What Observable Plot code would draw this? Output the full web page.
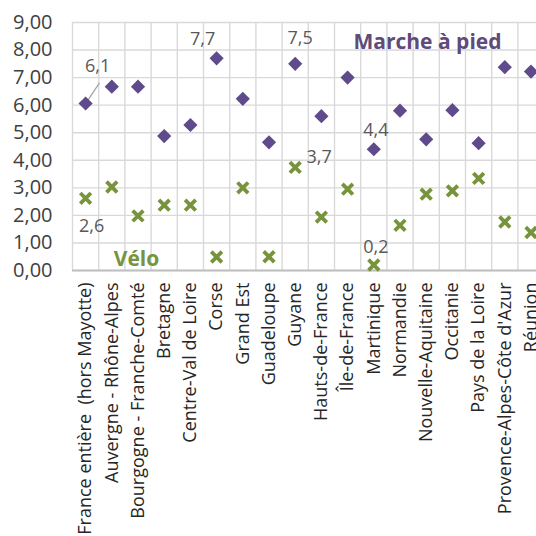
<!DOCTYPE html>
<html><head><meta charset="utf-8">
<script src="https://cdn.jsdelivr.net/npm/d3@7"></script>
<script src="https://cdn.jsdelivr.net/npm/@observablehq/plot@0.6"></script>
<style>
html,body{margin:0;padding:0;background:#fff;overflow:hidden;width:536px;height:536px}
</style></head><body><div id="chart"></div>
<script>
const regions = ["France entière  (hors Mayotte)", "Auvergne - Rhône-Alpes", "Bourgogne - Franche-Comté", "Bretagne", "Centre-Val de Loire", "Corse", "Grand Est", "Guadeloupe", "Guyane", "Hauts-de-France", "Île-de-France", "Martinique", "Normandie", "Nouvelle-Aquitaine", "Occitanie", "Pays de la Loire", "Provence-Alpes-Côte d'Azur", "Réunion"];
const walk = [6.06, 6.67, 6.67, 4.88, 5.28, 7.7, 6.23, 4.65, 7.5, 5.6, 7.0, 4.4, 5.8, 4.76, 5.82, 4.62, 7.38, 7.22];
const bike = [2.62, 3.03, 1.98, 2.37, 2.37, 0.49, 3.0, 0.5, 3.74, 1.94, 2.95, 0.2, 1.64, 2.77, 2.89, 3.34, 1.76, 1.38];
const yTicks = [0, 1, 2, 3, 4, 5, 6, 7, 8, 9];
const seriesNames = ["Marche à pied", "Vélo"];
const walkLabelled = ["France entière  (hors Mayotte)", "Corse", "Guyane", "Martinique"];
const bikeLabelled = ["France entière  (hors Mayotte)", "Guyane", "Martinique"];

// styling / placement (not data)
const purple = "#5f4a8b", green = "#77933c", grid = "#d9d9d9";
const walkLabelOffset = {"France entière  (hors Mayotte)": [12, -37], "Corse": [-14, -19], "Guyane": [5, -26], "Martinique": [2, -19]};
const bikeLabelOffset = {"France entière  (hors Mayotte)": [6, 28], "Guyane": [24, -10], "Martinique": [2, -18]};

const walkRows = regions.map((r, i) => ({region: r, x: i + 0.5, y: walk[i]}));
const bikeRows = regions.map((r, i) => ({region: r, x: i + 0.5, y: bike[i]}));
const fmt1 = v => v.toFixed(1).replace(".", ",");
const fmt2 = v => v.toFixed(2).replace(".", ",");

const leader = walkRows.filter(d => d.region === regions[0]);

const labelMarks = [];
for (const d of walkRows.filter(d => walkLabelled.includes(d.region))) {
  const [dx, dy] = walkLabelOffset[d.region];
  labelMarks.push(Plot.text([d], {x: "x", y: "y", text: d => fmt1(d.y), dx, dy, fill: "#595959", fontSize: 18}));
}
for (const d of bikeRows.filter(d => bikeLabelled.includes(d.region))) {
  const [dx, dy] = bikeLabelOffset[d.region];
  labelMarks.push(Plot.text([d], {x: "x", y: "y", text: d => fmt1(d.y), dx, dy, fill: "#595959", fontSize: 18}));
}

const plot = Plot.plot({
  width: 536, height: 536,
  marginLeft: 72, marginRight: 0, marginTop: 22, marginBottom: 266,
  style: {fontFamily: "'Open Sans', sans-serif", color: "#404040", background: "#fff", overflow: "hidden"},
  x: {type: "linear", domain: [0, 18], range: [72, 543.6], label: null},
  y: {domain: [0, 9], label: null},
  marks: [
    Plot.ruleY(yTicks, {stroke: grid, strokeWidth: 1.4}),
    Plot.ruleX(d3.range(19), {stroke: grid, strokeWidth: 1.4}),
    Plot.ruleY([0], {stroke: "#bfbfbf", strokeWidth: 2}),
    Plot.link(leader, {x1: "x", y1: "y", x2: d => d.x + 0.53, y2: d => d.y + 0.75, stroke: "#a6a6a6", strokeWidth: 1.3}),
    Plot.dot(walkRows, {x: "x", y: "y", symbol: "diamond2", fill: purple, stroke: "none", r: 6.4}),
    Plot.dot(bikeRows, {x: "x", y: "y", symbol: "times", stroke: green, strokeWidth: 3.8, r: 4.9}),
    ...labelMarks,
    Plot.axisY(yTicks, {tickFormat: fmt2, tickSize: 0, tickPadding: 20, fontSize: 20, fill: "#404040", label: null}),
    Plot.axisX(d3.range(18).map(i => i + 0.5), {tickFormat: d => regions[Math.floor(d)], tickRotate: -90, tickSize: 0, tickPadding: 12, fontSize: 18, fill: "#262626", label: null}),
    Plot.text([seriesNames[0]], {frameAnchor: "top-left", dx: 355, dy: 12, text: d => d, fill: "#604a7b", fontSize: 21, fontWeight: "bold", textAnchor: "middle"}),
    Plot.text([seriesNames[1]], {frameAnchor: "top-left", dx: 64, dy: 229, text: d => d, fill: green, fontSize: 21, fontWeight: "bold", textAnchor: "middle"})
  ]
});
document.getElementById("chart").appendChild(plot);
</script></body></html>
